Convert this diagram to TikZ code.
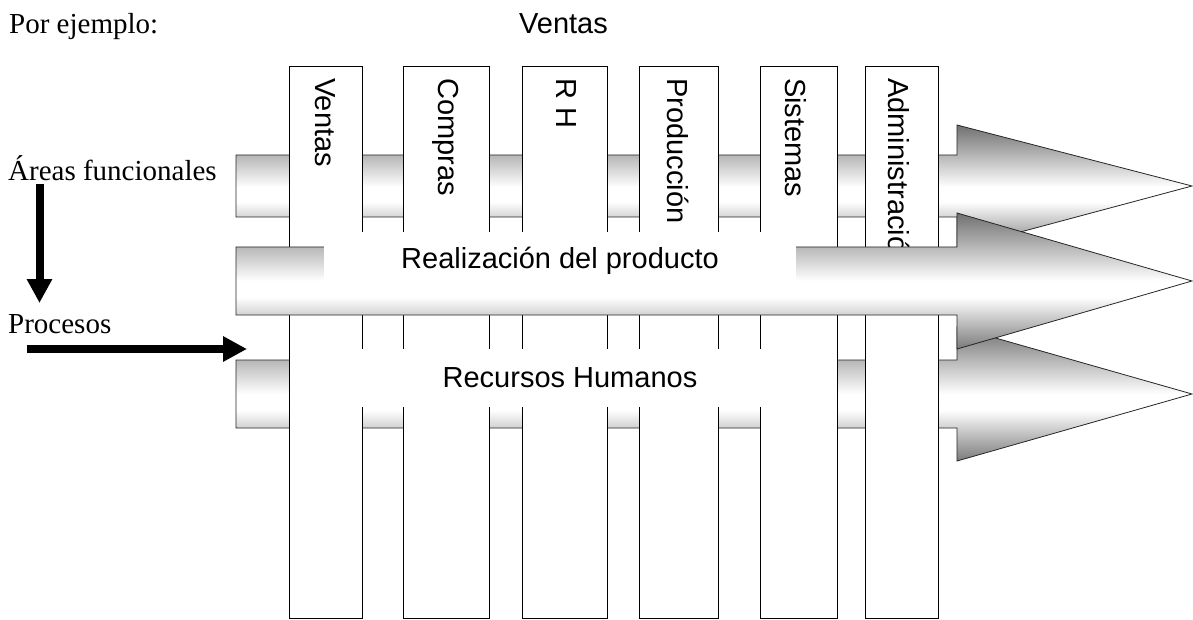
\documentclass[tikz,border=0pt]{standalone}
\usepackage{fontspec}
\setmainfont{Liberation Serif}
\newfontfamily\arialf{Liberation Sans}
\usetikzlibrary{arrows.meta}
\pgfdeclareverticalshading{arrshade}{100bp}{color(0bp)=(black!52); color(25bp)=(black!52); color(44bp)=(white); color(50bp)=(white); color(75bp)=(black!56); color(100bp)=(black!56)}
\begin{document}
\begin{tikzpicture}[x=1pt,y=-1pt,
  colbox/.style={draw=black, line width=1.1pt, fill=white, anchor=north west, minimum height=552pt, inner sep=0pt},
  coltext/.style={rotate=-90, anchor=west, inner sep=0pt, font=\arialf\fontsize{29}{34}\selectfont},
  bigarrow/.style={draw=black!85, line width=0.8pt, shading=arrshade},
  procbox/.style={fill=white, inner sep=0pt, minimum width=472pt, minimum height=58pt, font=\arialf\fontsize{29}{34}\selectfont},
  serif/.style={font=\fontsize{29}{34}\selectfont, inner sep=0pt, anchor=base west},
  blackarrow/.style={line width=8pt, -{Triangle[length=24pt,width=24pt]}}
]
\useasboundingbox (0,0) rectangle (1193,620);

% headings
\node[serif] (ej) at (9,34) {Por ejemplo:};
\node[inner sep=0pt, anchor=base, font=\arialf\fontsize{29}{34}\selectfont] (vt) at (563.5,34) {Ventas};
\node[serif] (af) at (8,181) {Áreas funcionales};
\node[serif] (pr) at (8,333) {Procesos};

% black arrows
\coordinate (d1) at (39.5,184);
\coordinate (d2) at (39.5,303);
\coordinate (r1) at (27,349);
\coordinate (r2) at (247,349);
\draw[blackarrow] (d1) -- (d2);
\draw[blackarrow] (r1) -- (r2);

% arrows behind the columns
\shadedraw[bigarrow] (236,155) -- (957,155) -- (957,125) -- (1192,186) -- (957,249) -- (957,217) -- (236,217) -- cycle;
\shadedraw[bigarrow] (236,360) -- (957,360) -- (957,327) -- (1192,394) -- (957,461) -- (957,428) -- (236,428) -- cycle;

% columns
\node[colbox, minimum width=73pt] (c1) at (289,66) {};
\node[colbox, minimum width=86pt] (c2) at (403,66) {};
\node[colbox, minimum width=85pt] (c3) at (522,66) {};
\node[colbox, minimum width=79pt] (c4) at (639,66) {};
\node[colbox, minimum width=77pt] (c5) at (760,66) {};
\node[colbox, minimum width=73pt] (c6) at (865,66) {};
\node[coltext] (t1) at (325.5,78) {Ventas};
\node[coltext] (t2) at (446,78) {Compras};
\node[coltext] (t3) at (566,78) {R H};
\node[coltext] (t4) at (678.5,78) {Producción};
\node[coltext] (t5) at (796,78) {Sistemas};
\node[coltext] (t6) at (899,78) {Administración};

% middle arrow in front
\shadedraw[bigarrow] (236,247) -- (957,247) -- (957,213) -- (1192,281) -- (957,349) -- (957,315) -- (236,315) -- cycle;

% process labels
\node[procbox] (p1) at (560,261) {Realización del producto};
\node[procbox] (p2) at (570,377.5) {Recursos Humanos};
\end{tikzpicture}
\end{document}
